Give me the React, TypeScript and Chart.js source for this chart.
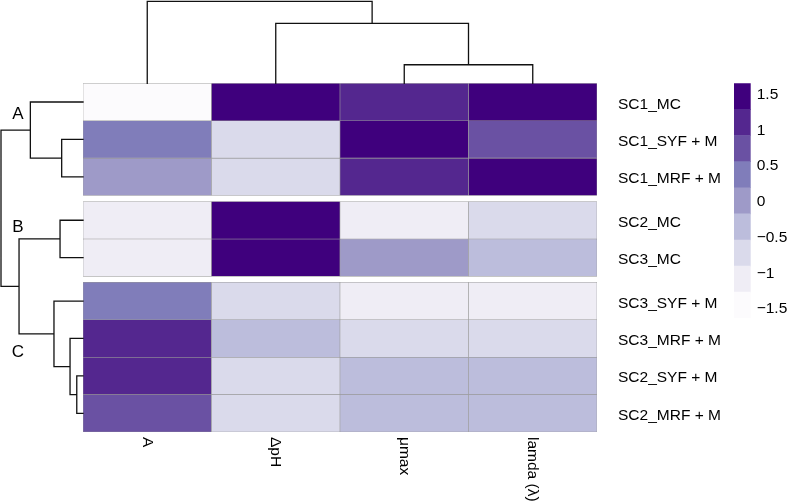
import React, { useEffect, useRef } from 'react';
import { Chart, registerables } from 'chart.js';

Chart.register(...registerables);

// ---------------- data ----------------
const colLabels = ['A', 'ΔpH', 'μmax', 'lamda (λ)'];
const rowLabels = [
  'SC1_MC',
  'SC1_SYF + M',
  'SC1_MRF + M',
  'SC2_MC',
  'SC3_MC',
  'SC3_SYF + M',
  'SC3_MRF + M',
  'SC2_SYF + M',
  'SC2_MRF + M',
];
const rowClusterSizes = [3, 2, 4];
const clusterNames = ['A', 'B', 'C'];

// scaled values per row, one array per column
const valA = [-1.63, 0.4, 0.05, -1.1, -1.12, 0.38, 1.12, 1.15, 0.78];
const valDpH = [1.55, -0.72, -0.75, 1.6, 1.66, -0.7, -0.4, -0.78, -0.76];
const valMu = [1.1, 1.5, 1.05, -1.15, 0.02, -1.05, -0.8, -0.42, -0.4];
const valLam = [1.45, 0.72, 1.4, -0.7, -0.3, -1.08, -0.75, -0.38, -0.36];

// column dendrogram (hclust-style merges: negative = leaf, positive = merge index)
const colMergeLeft = [-3, -2, -1];
const colMergeRight = [-4, 1, 2];
const colMergeHeight = [1.13, 3.66, 5.0];

// row dendrogram
const rowMergeLeft = [-2, -1, -4, -8, -7, -6, 3, 2];
const rowMergeRight = [-3, 1, -5, -9, 4, 5, 6, 7];
const rowMergeHeight = [1.3, 3.21, 1.4, 0.38, 0.79, 1.77, 3.9, 5.0];

const legendTicks = [1.5, 1, 0.5, 0, -0.5, -1, -1.5];
const palette = ['#fcfbfd', '#efedf5', '#dadaeb', '#bcbddc', '#9e9ac8', '#807dba', '#6a51a3', '#54278f', '#3f007d'];

// ---------------- derived ----------------
const columns = [valA, valDpH, valMu, valLam];
const allVals = columns.flat();
const vMin = Math.min(...allVals);
const vMax = Math.max(...allVals);
const breaks = palette.map((_, i) => vMin + ((vMax - vMin) * i) / palette.length).concat([vMax]);
const colorFor = (v: number) => {
  const step = (vMax - vMin) / palette.length;
  let i = Math.floor((v - vMin) / step);
  if (i < 0) i = 0;
  if (i > palette.length - 1) i = palette.length - 1;
  return palette[i];
};

const GAP = 0.16; // gap between row clusters, in row units
const rowTops: number[] = [];
{
  let y = 0;
  let r = 0;
  rowClusterSizes.forEach((n, g) => {
    if (g > 0) y += GAP;
    for (let k = 0; k < n; k++) {
      rowTops[r++] = y;
      y += 1;
    }
  });
}
const totalUnits = rowLabels.length + GAP * (rowClusterSizes.length - 1);
const clusterLabelAnchors = [0.95, 3.97, 7.31];

const FONT = '"Liberation Sans", Arial, Helvetica, sans-serif';
const fmt = (v: number) => (v < 0 ? '\u2212' + String(Math.abs(v)) : String(v));

function drawDendro(
  ctx: CanvasRenderingContext2D,
  left: number[],
  right: number[],
  heights: number[],
  leafPos: (i: number) => number,
  hToPx: (h: number) => number,
  vertical: boolean
) {
  const pos: number[] = [];
  const hgt: number[] = [];
  const get = (id: number): [number, number] =>
    id < 0 ? [leafPos(-id - 1), 0] : [pos[id - 1], hgt[id - 1]];
  ctx.beginPath();
  for (let m = 0; m < heights.length; m++) {
    const [p1, h1] = get(left[m]);
    const [p2, h2] = get(right[m]);
    const h = heights[m];
    pos[m] = (p1 + p2) / 2;
    hgt[m] = h;
    if (vertical) {
      ctx.moveTo(p1, hToPx(h1));
      ctx.lineTo(p1, hToPx(h));
      ctx.lineTo(p2, hToPx(h));
      ctx.lineTo(p2, hToPx(h2));
    } else {
      ctx.moveTo(hToPx(h1), p1);
      ctx.lineTo(hToPx(h), p1);
      ctx.lineTo(hToPx(h), p2);
      ctx.lineTo(hToPx(h2), p2);
    }
  }
  ctx.stroke();
}

const decorPlugin = {
  id: 'decor',
  afterDatasetsDraw(chart: any) {
    const ctx: CanvasRenderingContext2D = chart.ctx;
    const { left, right, top, bottom } = chart.chartArea;
    const xs = chart.scales.x;
    const ys = chart.scales.y;
    const treePx = 82;
    ctx.save();
    ctx.strokeStyle = '#111';
    ctx.lineWidth = 1.3;
    ctx.lineCap = 'square';
    const colMaxH = Math.max(...colMergeHeight);
    drawDendro(
      ctx,
      colMergeLeft,
      colMergeRight,
      colMergeHeight,
      (i) => xs.getPixelForValue(i),
      (h) => top - (h / colMaxH) * treePx,
      true
    );
    const rowMaxH = Math.max(...rowMergeHeight);
    drawDendro(
      ctx,
      rowMergeLeft,
      rowMergeRight,
      rowMergeHeight,
      (i) => ys.getPixelForValue(rowTops[i] + 0.5),
      (h) => left - (h / rowMaxH) * treePx,
      false
    );

    ctx.fillStyle = '#000';
    // row labels
    ctx.font = `15.5px ${FONT}`;
    ctx.textAlign = 'left';
    ctx.textBaseline = 'alphabetic';
    rowLabels.forEach((lab, i) => {
      const cy = ys.getPixelForValue(rowTops[i] + 0.5);
      ctx.fillText(lab, right + 21, cy + 6.5);
    });
    // column labels (rotated, reading downwards)
    colLabels.forEach((lab, j) => {
      const cx = xs.getPixelForValue(j);
      ctx.save();
      ctx.translate(cx, bottom + 5);
      ctx.rotate(Math.PI / 2);
      ctx.textAlign = 'left';
      ctx.textBaseline = 'middle';
      ctx.fillText(lab, 0, 0);
      ctx.restore();
    });
    // cluster letters
    ctx.font = `17px ${FONT}`;
    ctx.textAlign = 'center';
    ctx.textBaseline = 'alphabetic';
    clusterNames.forEach((c, k) => {
      ctx.fillText(c, 18, ys.getPixelForValue(clusterLabelAnchors[k]));
    });
    ctx.restore();
  },
};

export default function App() {
  const mainRef = useRef<HTMLCanvasElement | null>(null);
  const legRef = useRef<HTMLCanvasElement | null>(null);

  useEffect(() => {
    document.body.style.margin = '0';
    const datasets = rowLabels.map((lab, r) => ({
      label: lab,
      data: colLabels.map(() => [rowTops[r], rowTops[r] + 1]),
      backgroundColor: columns.map((col) => colorFor(col[r])),
      borderColor: '#999999',
      borderWidth: 0.6,
      borderSkipped: false,
      grouped: false,
      barPercentage: 1,
      categoryPercentage: 1,
    }));
    const main = new Chart(mainRef.current as HTMLCanvasElement, {
      type: 'bar',
      data: { labels: colLabels, datasets: datasets as any },
      options: {
        responsive: false,
        animation: false,
        events: [],
        layout: { padding: { left: 83, right: 190, top: 83.3, bottom: 70 } },
        plugins: { legend: { display: false }, tooltip: { enabled: false } },
        scales: {
          x: { type: 'category', display: false, offset: true },
          y: { type: 'linear', display: false, reverse: true, min: 0, max: totalUnits },
        },
      },
      plugins: [decorPlugin],
    });

    const legend = new Chart(legRef.current as HTMLCanvasElement, {
      type: 'bar',
      data: {
        labels: [''],
        datasets: palette.map((c, i) => ({
          data: [[breaks[i], breaks[i + 1]]],
          backgroundColor: c,
          borderWidth: 0,
          grouped: false,
          barPercentage: 1,
          categoryPercentage: 1,
        })) as any,
      },
      options: {
        responsive: false,
        animation: false,
        events: [],
        layout: { padding: { top: 23.3, bottom: 21.7, left: 0, right: 0 } },
        plugins: { legend: { display: false }, tooltip: { enabled: false } },
        scales: {
          x: { display: false, offset: true },
          y: {
            position: 'right',
            min: vMin,
            max: vMax,
            grid: { display: false, drawTicks: false },
            border: { display: false },
            ticks: {
              padding: 6,
              color: '#000',
              font: { family: FONT, size: 15.5 },
              callback: (v: any) => fmt(Number(v)),
            },
            afterBuildTicks: (s: any) => {
              s.ticks = legendTicks.map((v) => ({ value: v }));
            },
            afterFit: (s: any) => {
              s.width = 36.3;
            },
          } as any,
        },
      },
    });

    return () => {
      main.destroy();
      legend.destroy();
    };
  }, []);

  return (
    <div style={{ position: 'fixed', left: 0, top: 0, width: 787, height: 502, background: '#fff', overflow: 'hidden' }}>
      <canvas ref={mainRef} width={787} height={502} style={{ position: 'absolute', left: 0, top: 0, display: 'block' }} />
      <canvas ref={legRef} width={53} height={280} style={{ position: 'absolute', left: 734, top: 60, display: 'block' }} />
    </div>
  );
}
